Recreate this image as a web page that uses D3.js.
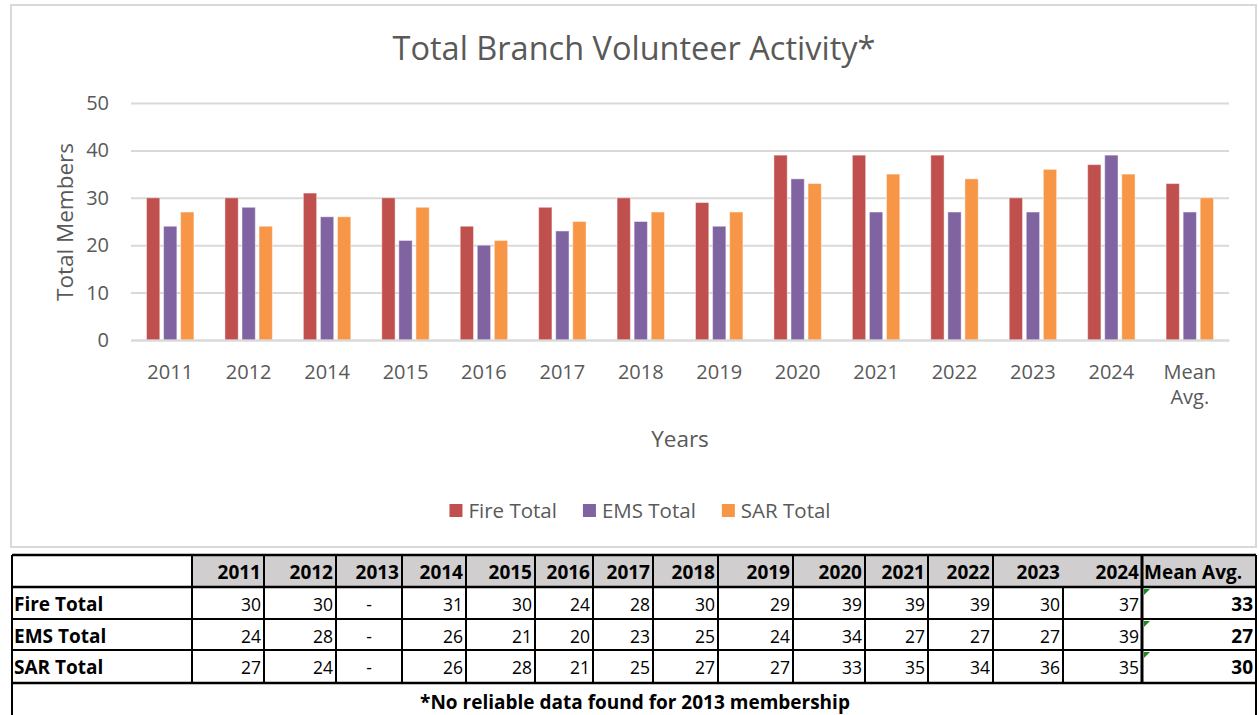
<!DOCTYPE html>
<head>
<meta charset="utf-8">
<title>Total Branch Volunteer Activity</title>
<script src="https://d3js.org/d3.v7.min.js"></script>
<style>
  body { margin: 0; background: #fff; }
  text { font-family: "Open Sans", Lato, sans-serif; }
</style>
</head>
<body>
<svg width="1259" height="715"></svg>
<script>

var years = ["2011", "2012", "2013", "2014", "2015", "2016", "2017", "2018", "2019", "2020", "2021", "2022", "2023", "2024"];
var fireTotal = [30, 30, null, 31, 30, 24, 28, 30, 29, 39, 39, 39, 30, 37];
var emsTotal  = [24, 28, null, 26, 21, 20, 23, 25, 24, 34, 27, 27, 27, 39];
var sarTotal  = [27, 24, null, 26, 28, 21, 25, 27, 27, 33, 35, 34, 36, 35];
var meanAvg   = [33, 27, 30];   // Fire, EMS, SAR
var seriesNames = ["Fire Total", "EMS Total", "SAR Total"];
var seriesColors = ["#C0504D", "#8064A2", "#F79646"];
var yTicks = [0, 10, 20, 30, 40, 50];
var meanLabel = "Mean Avg.";
var note = "*No reliable data found for 2013 membership";

var svg = d3.select("svg");
var grey = "#595959";

// chart frame
svg.append("rect")
  .attr("x", 11).attr("y", 5).attr("width", 1245).attr("height", 542)
  .attr("fill", "#fff").attr("stroke", "#d9d9d9").attr("stroke-width", 2);

// categories on the chart skip 2013 (no data) and add the mean
var cats = years.filter(function(y, i) { return fireTotal[i] != null; }).concat([meanLabel]);
var allSeries = [fireTotal, emsTotal, sarTotal];
var rows = cats.map(function(c) {
  var i = years.indexOf(c);
  return {
    cat: c,
    vals: allSeries.map(function(s, k) { return i < 0 ? meanAvg[k] : s[i]; })
  };
});

var x = d3.scaleBand().domain(cats).range([131, 1229]);
var x1 = d3.scaleBand().domain(d3.range(3)).range([15.5, x.bandwidth() - 15.5]).paddingInner(0.22);
var y = d3.scaleLinear().domain([0, 50]).range([340, 103]);

// title
svg.append("text")
  .attr("x", 634).attr("y", 60)
  .attr("text-anchor", "middle")
  .attr("font-size", 32.5).attr("fill", grey)
  .text("Total Branch Volunteer Activity*");

// gridlines + y labels
var yAxis = d3.axisLeft(y).tickValues(yTicks).tickSize(-(1229 - 131)).tickPadding(22);
var gy = svg.append("g").attr("transform", "translate(131,0)").call(yAxis);
gy.select(".domain").remove();
gy.selectAll(".tick line").attr("stroke", "#d9d9d9").attr("stroke-width", 2);
gy.selectAll(".tick text").attr("font-size", 20).attr("fill", grey).attr("font-family", "Open Sans");

// bars
var groups = svg.append("g").selectAll("g").data(rows).join("g")
  .attr("transform", function(d) { return "translate(" + x(d.cat) + ",0)"; });
groups.selectAll("rect").data(function(d) { return d.vals; }).join("rect")
  .attr("x", function(d, k) { return x1(k); })
  .attr("y", function(d) { return y(d); })
  .attr("width", x1.bandwidth())
  .attr("height", function(d) { return y(0) - y(d); })
  .attr("fill", function(d, k) { return seriesColors[k]; })
  .attr("stroke", "#fff").attr("stroke-opacity", 0.45).attr("stroke-width", 1);

// x axis labels
var xAxis = d3.axisBottom(x).tickSize(0).tickPadding(0);
var gx = svg.append("g").attr("transform", "translate(0,340)").call(xAxis);
gx.select(".domain").attr("stroke", "#d9d9d9").attr("stroke-width", 2);
gx.selectAll(".tick text").attr("font-size", 20).attr("fill", grey).attr("font-family", "Open Sans")
  .attr("dy", null).attr("y", 39)
  .each(function(d) {
    if (d === meanLabel) {
      var t = d3.select(this).text(null);
      t.append("tspan").attr("x", 0).attr("y", 39).text("Mean");
      t.append("tspan").attr("x", 0).attr("y", 64).text("Avg.");
    }
  });

// axis titles
svg.append("text")
  .attr("x", 680).attr("y", 447).attr("text-anchor", "middle")
  .attr("font-size", 22.5).attr("fill", grey).text("Years");
svg.append("text")
  .attr("transform", "translate(73,222) rotate(-90)").attr("text-anchor", "middle")
  .attr("font-size", 22.5).attr("fill", grey).text("Total Members");

// legend, centred
var legend = svg.append("g");
var items = legend.selectAll("g").data(seriesNames).join("g");
items.append("rect").attr("y", 504).attr("width", 13).attr("height", 13)
  .attr("fill", function(d, k) { return seriesColors[k]; });
items.append("text").attr("x", 19).attr("y", 518)
  .attr("font-size", 20.5).attr("fill", grey).text(function(d) { return d; });
var lx = 0, offs = [];
items.each(function() {
  offs.push(lx);
  lx += 19 + this.querySelector("text").getComputedTextLength() + 26;
});
lx -= 26;
items.attr("transform", function(d, k) { return "translate(" + (640 - lx / 2 + offs[k]) + ",0)"; });

// ---------- data table ----------
var colEdges = [12, 192, 264, 336, 402, 466, 535, 593, 653, 718, 793, 865, 928, 993, 1063, 1142, 1256];
var rowEdges = [555, 587, 619, 650, 683, 722];
var tbl = svg.append("g");

// header fill
tbl.append("rect").attr("x", colEdges[1]).attr("y", rowEdges[0])
  .attr("width", colEdges[16] - colEdges[1]).attr("height", rowEdges[1] - rowEdges[0])
  .attr("fill", "#d0cece");

function cellText(txt, col, row, align, bold) {
  var x0 = colEdges[col], x1e = colEdges[col + 1];
  var tx = align === "start" ? x0 + 2 : align === "middle" ? (x0 + x1e) / 2 : x1e - 3;
  tbl.append("text")
    .attr("x", tx).attr("y", rowEdges[row] + 24)
    .attr("text-anchor", align)
    .attr("font-size", bold ? 19 : 17.5).attr("font-weight", bold ? 700 : 400)
    .attr("fill", "#000").text(txt);
}

// header row
years.forEach(function(yr, i) { cellText(yr, i + 1, 0, "end", true); });
cellText(meanLabel, 15, 0, "start", true);

// body rows
allSeries.forEach(function(s, r) {
  cellText(seriesNames[r], 0, r + 1, "start", true);
  s.forEach(function(v, i) {
    if (v == null) cellText("-", i + 1, r + 1, "middle", false);
    else cellText(v, i + 1, r + 1, "end", false);
  });
  cellText(meanAvg[r], 15, r + 1, "end", true);
  // green error marker
  tbl.append("path")
    .attr("d", "M" + (colEdges[15] + 2) + "," + (rowEdges[r + 1] + 2) + "l6,0l-6,6z")
    .attr("fill", "#1a8a1a");
});

// note row
tbl.append("text")
  .attr("x", 635).attr("y", 709).attr("text-anchor", "middle")
  .attr("font-size", 19).attr("font-weight", 700).attr("fill", "#000").text(note);

// grid lines of the table
var line = function(x1v, y1v, x2v, y2v, w) {
  tbl.append("line").attr("x1", x1v).attr("y1", y1v).attr("x2", x2v).attr("y2", y2v)
    .attr("stroke", "#000").attr("stroke-width", w);
};
line(colEdges[0], rowEdges[0], colEdges[16], rowEdges[0], 2.5);
line(colEdges[0], rowEdges[1], colEdges[16], rowEdges[1], 2.5);
line(colEdges[0], rowEdges[2], colEdges[16], rowEdges[2], 2);
line(colEdges[0], rowEdges[3], colEdges[16], rowEdges[3], 2);
line(colEdges[0], rowEdges[4], colEdges[16], rowEdges[4], 2.5);
colEdges.forEach(function(cx, i) {
  var w = i === 15 ? 3 : 2;
  if (i === 0 || i === 16) { line(cx, rowEdges[0], cx, rowEdges[5], 2); return; }
  // no line between 2023 and 2024 in the header
  line(cx, i === 14 ? rowEdges[1] : rowEdges[0], cx, rowEdges[4], w);
});

</script>
</body>
</html>
